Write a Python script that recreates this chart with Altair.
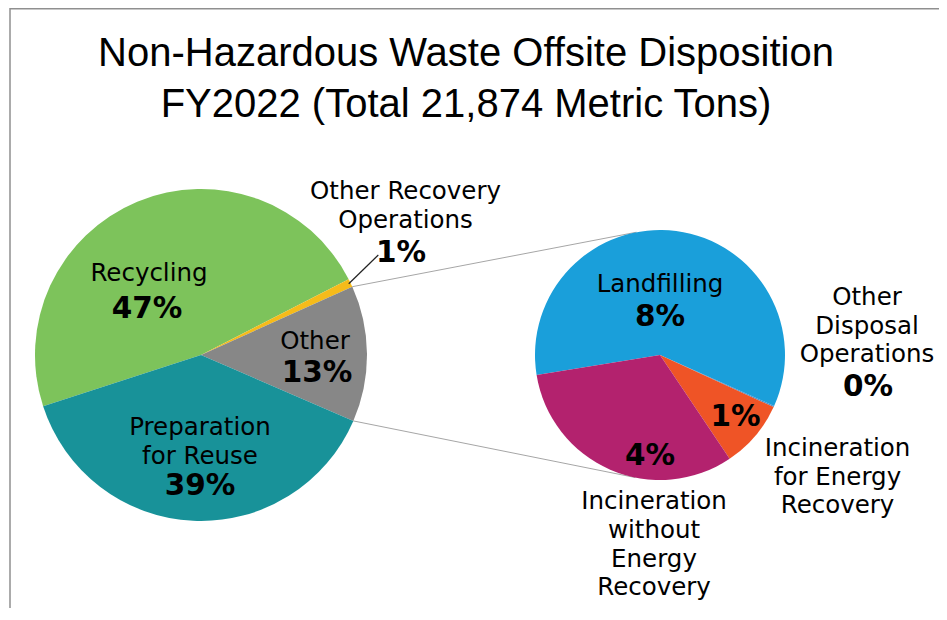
import math
import altair as alt
import pandas as pd

# ---------------- data ----------------
title_lines = ["Non-Hazardous Waste Offsite Disposition", "FY2022 (Total 21,874 Metric Tons)"]

main_categories = ["Recycling", "Other Recovery Operations", "Other", "Preparation for Reuse"]
main_values = [47.45, 0.8, 13.25, 38.5]
main_pct_labels = ["47%", "1%", "13%", "39%"]
main_name_lines = [["Recycling"], ["Other Recovery", "Operations"], ["Other"], ["Preparation", "for Reuse"]]

detail_categories = ["Landfilling", "Other Disposal Operations",
                     "Incineration for Energy Recovery", "Incineration without Energy Recovery"]
detail_values = [7.85, 0.02, 1.16, 4.22]
detail_pct_labels = ["8%", "0%", "1%", "4%"]
detail_name_lines = [["Landfilling"], ["Other", "Disposal", "Operations"],
                     ["Incineration", "for Energy", "Recovery"],
                     ["Incineration", "without", "Energy", "Recovery"]]

# ---------------- styles / layout ----------------
main_colors = ["#7DC35B", "#F6BB1A", "#878787", "#189299"]
detail_colors = ["#1A9FDA", "#3F8FD0", "#EF5426", "#B3226E"]

W, H = 931, 600
C1, R1, START1 = (193.0, 347.0), 166.0, 252.0
C2, R2, START2 = (652.0, 347.0), 125.0, 260.8
OTHER_INDEX = 2
LINE_H = 28.7
LABEL_FONT = "DejaVu Sans"
LABEL_SIZE = 24.5
PCT_SIZE = 29.5

# label anchors as offsets from the pie centre: (name dx, name dy, pct dx, pct dy)
main_label_offsets = [(-52, -74, -54, -37), (204.5, -155.7, 200, -93.3),
                      (114, -6, 116, 27), (-1, 80, -1, 140)]
detail_label_offsets = [(0, -63.3, 0, -29), (207, -50, 208, 41),
                        (177.5, 101, 75.5, 71), (-6, 154.3, -10, 110)]
leader_end_offset = (177.3, -100)


def polar(c, r, deg):
    a = math.radians(deg)
    return c[0] + r * math.sin(a), c[1] - r * math.cos(a)


def boundaries(values, start):
    tot = sum(values)
    out, acc = [], start
    for v in values:
        a0 = acc
        acc += 360.0 * v / tot
        out.append((a0, acc))
    return out


main_bounds = boundaries(main_values, START1)

# connector lines from the "Other" slice edges to tangents of the second pie
o_a0, o_a1 = main_bounds[OTHER_INDEX]


def tangent(p, c, r, upper):
    dx, dy = p[0] - c[0], p[1] - c[1]
    d = math.hypot(dx, dy)
    phi = math.atan2(dy, dx)
    alpha = math.acos(r / d)
    cands = [(c[0] + r * math.cos(phi + s * alpha), c[1] + r * math.sin(phi + s * alpha)) for s in (1, -1)]
    cands.sort(key=lambda q: q[1])
    return cands[0] if upper else cands[1]


p_top = polar(C1, R1, o_a0)
p_bot = polar(C1, R1, o_a1)
t_top = tangent(p_top, C2, R2, True)
t_bot = tangent(p_bot, C2, R2, False)
conn_df = pd.DataFrame([
    {"x": p_top[0], "y": p_top[1], "x2": t_top[0], "y2": t_top[1]},
    {"x": p_bot[0], "y": p_bot[1], "x2": t_bot[0], "y2": t_bot[1]},
])

# leader line for the small "Other Recovery Operations" slice
or_mid = sum(main_bounds[1]) / 2
lp = polar(C1, R1 - 2, or_mid)
leader_df = pd.DataFrame([{"x": lp[0], "y": lp[1],
                           "x2": C1[0] + leader_end_offset[0], "y2": C1[1] + leader_end_offset[1]}])

# pie tables
main_df = pd.DataFrame({"category": main_categories, "value": main_values, "idx": range(4)})
detail_df = pd.DataFrame({"category": detail_categories, "value": detail_values, "idx": range(4)})

# label tables
name_rows, pct_rows = [], []
for centre, names, pcts, offs in [(C1, main_name_lines, main_pct_labels, main_label_offsets),
                                  (C2, detail_name_lines, detail_pct_labels, detail_label_offsets)]:
    for lines, pct, (ndx, ndy, pdx, pdy) in zip(names, pcts, offs):
        for i, ln in enumerate(lines):
            name_rows.append({"x": centre[0] + ndx, "y": centre[1] + ndy + i * LINE_H, "text": ln})
        pct_rows.append({"x": centre[0] + pdx, "y": centre[1] + pdy, "text": pct})
name_df = pd.DataFrame(name_rows)
pct_df = pd.DataFrame(pct_rows)
title_df = pd.DataFrame({"x": [458, 458], "y": [58, 109], "text": title_lines})

xs = alt.Scale(domain=[0, W], nice=False, zero=False)
ys = alt.Scale(domain=[0, H], nice=False, zero=False, reverse=True)

all_cats = main_categories + detail_categories
all_cols = main_colors + detail_colors
color_enc = alt.Color("category:N", scale=alt.Scale(domain=all_cats, range=all_cols), legend=None)


def pie(df, centre, r, start):
    a = math.radians(start)
    return alt.Chart(df).mark_arc(radius=r).encode(
        theta=alt.Theta("value:Q", stack=True, scale=alt.Scale(range=[a, a + 2 * math.pi])),
        order=alt.Order("idx:Q"),
        color=color_enc,
        x=alt.value(centre[0]),
        y=alt.value(centre[1]),
    )


def seg(df, color, width):
    return alt.Chart(df).mark_rule(color=color, strokeWidth=width).encode(
        x=alt.X("x:Q", scale=xs, axis=None), y=alt.Y("y:Q", scale=ys, axis=None),
        x2="x2:Q", y2="y2:Q")


border_top = alt.Chart(pd.DataFrame({"a": [0]})).mark_rule(color="#8F8F8F", strokeWidth=1.5).encode(
    x=alt.value(2), x2=alt.value(W), y=alt.value(0.75))
border_left = alt.Chart(pd.DataFrame({"a": [0]})).mark_rule(color="#8F8F8F", strokeWidth=1.5).encode(
    x=alt.value(2), y=alt.value(0), y2=alt.value(H))

connectors = seg(conn_df, "#A6A6A6", 1)
leader = seg(leader_df, "#222222", 1.2)


def texts(df, font, size, weight):
    return alt.Chart(df).mark_text(font=font, fontSize=size, fontWeight=weight, color="#000000",
                                   align="center", baseline="alphabetic").encode(
        x=alt.X("x:Q", scale=xs, axis=None), y=alt.Y("y:Q", scale=ys, axis=None), text="text:N")


names = texts(name_df, LABEL_FONT, LABEL_SIZE, "normal")
pcts = texts(pct_df, LABEL_FONT, PCT_SIZE, "bold")
title = texts(title_df, "Liberation Sans", 40, "normal")

chart = alt.layer(
    border_top, border_left, connectors,
    pie(main_df, C1, R1, START1), pie(detail_df, C2, R2, START2),
    leader, names, pcts, title,
).resolve_scale(theta="independent").properties(
    width=W, height=H, padding=0, background="white",
    autosize=alt.AutoSizeParams(type="none"),
).configure_view(stroke=None)

chart.save("out.html", embed_options={"renderer": "svg", "actions": False})
